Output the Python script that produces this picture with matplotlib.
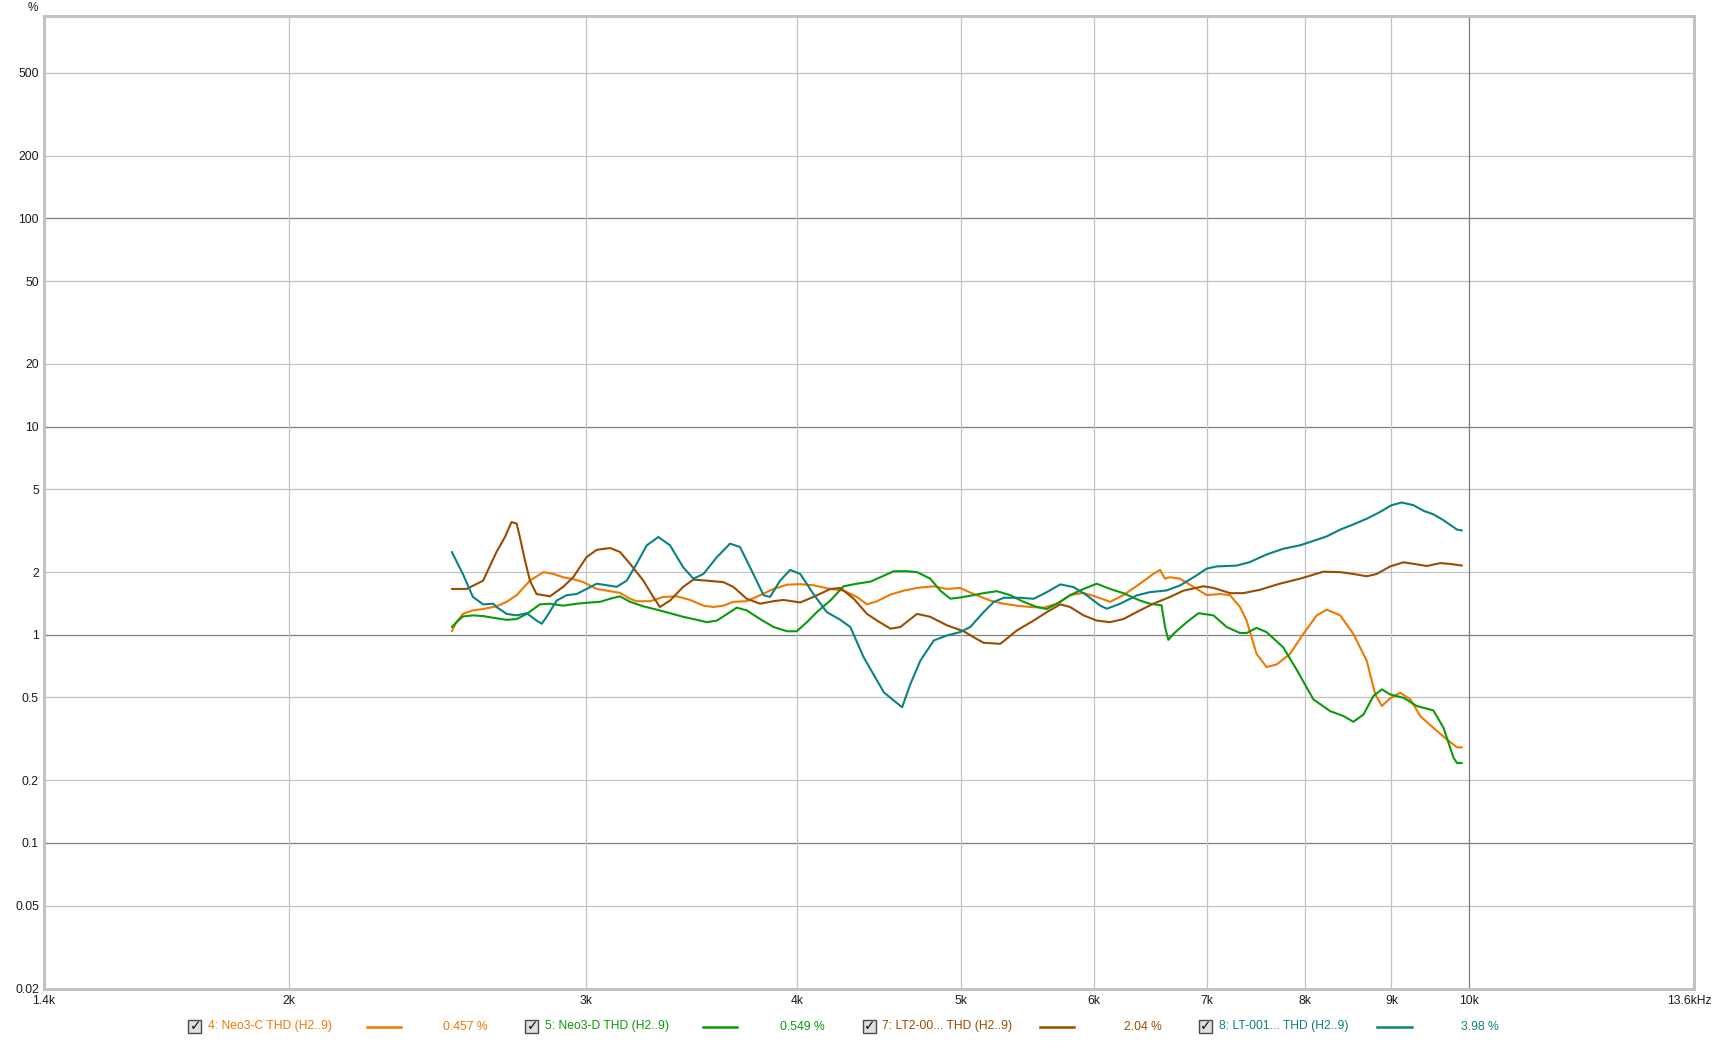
import matplotlib
matplotlib.use("Agg")
import matplotlib.pyplot as plt
from matplotlib.patches import Rectangle
from matplotlib.ticker import NullLocator
from matplotlib.transforms import ScaledTranslation

plt.rcParams['font.family'] = ['Liberation Sans', 'DejaVu Sans']

# ---------------- data (frequency in Hz, THD in %) ----------------
neo3c_f = [2497, 2513, 2535, 2570, 2606, 2654, 2691, 2728, 2778, 2829, 2868, 2907, 2947, 2988,
           3043, 3099, 3141, 3185, 3213, 3273, 3332, 3394, 3457, 3520, 3568, 3617, 3666, 3734,
           3803, 3873, 3945, 4017, 4090, 4185, 4262, 4340, 4400, 4461, 4543, 4627, 4711, 4820,
           4908, 4995, 5089, 5206, 5302, 5399, 5498, 5599, 5701, 5805, 5912, 6020, 6131, 6243,
           6386, 6503, 6563, 6608, 6653, 6745, 6869, 6995, 7122, 7221, 7320, 7386, 7487, 7590,
           7695, 7837, 7980, 8128, 8240, 8392, 8544, 8702, 8802, 8883, 8984, 9107, 9234, 9361,
           9531, 9708, 9843, 9909]
neo3c_v = [1.04, 1.15, 1.26, 1.31, 1.33, 1.37, 1.44, 1.55, 1.82, 2.00, 1.96, 1.89, 1.85, 1.79,
           1.66, 1.62, 1.59, 1.49, 1.45, 1.45, 1.52, 1.53, 1.47, 1.38, 1.36, 1.38, 1.44, 1.45,
           1.55, 1.66, 1.74, 1.75, 1.73, 1.66, 1.63, 1.52, 1.40, 1.45, 1.56, 1.63, 1.68, 1.71,
           1.66, 1.68, 1.57, 1.46, 1.41, 1.38, 1.36, 1.35, 1.41, 1.55, 1.59, 1.52, 1.44, 1.55,
           1.76, 1.96, 2.05, 1.86, 1.89, 1.86, 1.70, 1.55, 1.57, 1.55, 1.36, 1.17, 0.81, 0.70,
           0.72, 0.81, 1.01, 1.24, 1.32, 1.24, 1.01, 0.75, 0.52, 0.455, 0.495, 0.527, 0.49, 0.407,
           0.357, 0.314, 0.288, 0.288]

neo3d_f = [2497, 2513, 2535, 2570, 2606, 2654, 2691, 2728, 2766, 2816, 2855, 2907, 2961, 3001,
           3057, 3099, 3141, 3185, 3243, 3303, 3363, 3424, 3488, 3536, 3585, 3650, 3684, 3734,
           3803, 3873, 3945, 3998, 4054, 4109, 4185, 4262, 4340, 4421, 4461, 4564, 4647, 4711,
           4797, 4863, 4930, 4995, 5089, 5159, 5254, 5350, 5448, 5548, 5624, 5728, 5805, 5912,
           6020, 6131, 6243, 6386, 6474, 6577, 6608, 6638, 6684, 6807, 6917, 7059, 7188, 7320,
           7386, 7487, 7590, 7765, 7908, 8090, 8277, 8430, 8544, 8663, 8781, 8883, 8984, 9150,
           9316, 9531, 9663, 9797, 9843, 9909]
neo3d_v = [1.09, 1.15, 1.225, 1.24, 1.23, 1.20, 1.18, 1.19, 1.26, 1.40, 1.41, 1.38, 1.41, 1.425,
           1.44, 1.49, 1.53, 1.44, 1.37, 1.32, 1.27, 1.22, 1.18, 1.15, 1.17, 1.285, 1.35, 1.31,
           1.19, 1.09, 1.04, 1.04, 1.15, 1.285, 1.46, 1.71, 1.76, 1.80, 1.86, 2.02, 2.02, 2.00,
           1.86, 1.63, 1.49, 1.51, 1.55, 1.585, 1.62, 1.55, 1.44, 1.36, 1.33, 1.44, 1.55, 1.66,
           1.76, 1.66, 1.585, 1.46, 1.41, 1.385, 1.09, 0.946, 1.01, 1.15, 1.27, 1.24, 1.09, 1.02,
           1.02, 1.08, 1.03, 0.87, 0.68, 0.49, 0.43, 0.407, 0.382, 0.414, 0.508, 0.547, 0.517, 0.498,
           0.455, 0.433, 0.357, 0.256, 0.242, 0.242]

lt200_f = [2497, 2548, 2606, 2654, 2685, 2709, 2728, 2740, 2759, 2778, 2803, 2855, 2907, 2947,
           3001, 3043, 3099, 3141, 3185, 3243, 3287, 3317, 3363, 3424, 3472, 3536, 3617, 3666,
           3734, 3803, 3873, 3926, 4017, 4090, 4185, 4243, 4321, 4400, 4461, 4543, 4605, 4711,
           4797, 4908, 5020, 5089, 5159, 5278, 5302, 5399, 5523, 5624, 5728, 5805, 5912, 6020,
           6131, 6243, 6386, 6503, 6653, 6776, 6963, 7059, 7221, 7353, 7521, 7729, 7944, 8203,
           8392, 8544, 8702, 8821, 8984, 9150, 9316, 9446, 9621, 9752, 9909]
lt200_v = [1.66, 1.66, 1.82, 2.50, 2.95, 3.48, 3.42, 2.95, 2.28, 1.82, 1.57, 1.53, 1.70, 1.89,
           2.36, 2.56, 2.61, 2.50, 2.19, 1.82, 1.52, 1.36, 1.46, 1.70, 1.84, 1.82, 1.79, 1.70,
           1.49, 1.41, 1.45, 1.47, 1.43, 1.52, 1.66, 1.68, 1.49, 1.26, 1.17, 1.07, 1.09, 1.26,
           1.22, 1.11, 1.04, 0.974, 0.915, 0.905, 0.932, 1.05, 1.17, 1.285, 1.40, 1.36, 1.24, 1.17,
           1.15, 1.19, 1.31, 1.41, 1.52, 1.63, 1.71, 1.68, 1.585, 1.585, 1.645, 1.76, 1.86, 2.01,
           2.00, 1.96, 1.91, 1.96, 2.13, 2.23, 2.18, 2.14, 2.21, 2.19, 2.15]

lt001_f = [2497, 2535, 2570, 2606, 2642, 2654, 2691, 2728, 2766, 2803, 2823, 2842, 2881, 2921,
           2961, 3001, 3043, 3085, 3127, 3170, 3213, 3258, 3310, 3363, 3424, 3472, 3520, 3585,
           3650, 3700, 3751, 3821, 3855, 3908, 3962, 4017, 4090, 4165, 4243, 4301, 4380, 4502,
           4564, 4616, 4669, 4733, 4820, 4908, 4995, 5066, 5159, 5230, 5302, 5424, 5523, 5624,
           5728, 5833, 5939, 6047, 6103, 6215, 6358, 6474, 6622, 6745, 6900, 6995, 7090, 7286,
           7419, 7590, 7765, 7944, 8128, 8240, 8392, 8544, 8702, 8861, 9000, 9127, 9276, 9404,
           9531, 9663, 9843, 9909]
lt001_v = [2.50, 1.96, 1.52, 1.40, 1.41, 1.36, 1.26, 1.24, 1.27, 1.17, 1.13, 1.22, 1.46, 1.55,
           1.57, 1.66, 1.76, 1.73, 1.70, 1.82, 2.19, 2.69, 2.95, 2.69, 2.11, 1.86, 1.96, 2.36,
           2.74, 2.64, 2.11, 1.55, 1.52, 1.82, 2.05, 1.96, 1.57, 1.285, 1.18, 1.09, 0.78, 0.53,
           0.483, 0.449, 0.581, 0.753, 0.939, 0.993, 1.03, 1.09, 1.285, 1.436, 1.506, 1.506, 1.489, 1.603,
           1.746, 1.695, 1.546, 1.384, 1.334, 1.409, 1.546, 1.603, 1.633, 1.726, 1.93, 2.08, 2.13, 2.15,
           2.235, 2.43, 2.59, 2.69, 2.86, 2.97, 3.20, 3.39, 3.61, 3.89, 4.19, 4.32, 4.19, 3.94,
           3.79, 3.55, 3.20, 3.17]

series_names = ["4: Neo3-C THD (H2..9)", "5: Neo3-D THD (H2..9)",
                "7: LT2-00... THD (H2..9)", "8: LT-001... THD (H2..9)"]
series_values = ["0.457 %", "0.549 %", "2.04 %", "3.98 %"]
series_colors = ["#f07800", "#0a9a0a", "#9a4c00", "#0a8282"]

x_ticks = [1431, 2000, 3000, 4000, 5000, 6000, 7000, 8000, 9000, 10000, 13600]
x_labels = ["1.4k", "2k", "3k", "4k", "5k", "6k", "7k", "8k", "9k", "10k", "13.6kHz"]
y_ticks = [500, 200, 100, 50, 20, 10, 5, 2, 1, 0.5, 0.2, 0.1, 0.05, 0.02]
y_labels = ["500", "200", "100", "50", "20", "10", "5", "2", "1", "0.5", "0.2", "0.1", "0.05", "0.02"]
decade_y = [100, 10, 1, 0.1]
decade_x = [10000]

# ---------------- figure ----------------
W, H = 1716, 1042
fig = plt.figure(figsize=(W / 100, H / 100), dpi=100)
fig.patch.set_facecolor("white")
L, R, T, B = 43.8, 1694, 16.4, 988.5
ax = fig.add_axes([L / W, 1 - B / H, (R - L) / W, (B - T) / H])
ax.set_xscale("log")
ax.set_yscale("log")
ax.set_xlim(1431, 13600)
ax.set_ylim(0.02, 934)

for v in y_ticks[:-1]:
    dec = v in decade_y
    ax.axhline(v, color="#7f7f7f" if dec else "#c3c3c3", lw=0.9, zorder=1)
for f in x_ticks[1:-1]:
    dec = f in decade_x
    ax.axvline(f, color="#7f7f7f" if dec else "#c3c3c3", lw=0.9, zorder=1)

data = [(neo3c_f, neo3c_v), (neo3d_f, neo3d_v), (lt200_f, lt200_v), (lt001_f, lt001_v)]
for (fx_, vy_), c in zip(data, series_colors):
    ax.plot(fx_, vy_, color=c, lw=1.5, zorder=3, solid_joinstyle="round", solid_capstyle="round")

ax.set_xticks(x_ticks)
ax.set_xticklabels(x_labels)
ax.set_yticks(y_ticks)
ax.set_yticklabels(y_labels)
ax.xaxis.set_minor_locator(NullLocator())
ax.yaxis.set_minor_locator(NullLocator())
ax.tick_params(axis="both", length=0, labelsize=8.7, colors="#1a1a1a")
ax.tick_params(axis="x", pad=5)
ax.tick_params(axis="y", pad=3.5)
last = ax.get_xticklabels()[-1]
last.set_transform(last.get_transform() + ScaledTranslation(-5 / 100, 0, fig.dpi_scale_trans))

for s in ax.spines.values():
    s.set_color("#c2c2c2")
    s.set_linewidth(2.2)

fig.text(33 / W, 1 - 8 / H, "%", fontsize=8.5, ha="center", va="center", color="#1a1a1a")

# ---------------- legend row ----------------
def fx(x):
    return x / W

def fy(y):
    return 1 - y / H

ly = 1026.5
box_x = [194.8, 531.9, 869.0, 1205.5]
text_x = [208, 545, 882, 1219]
line_x = [(366.6, 400.6), (702.6, 736.5), (1039.7, 1073.6), (1376.8, 1411.8)]
val_x = [465.1, 802.2, 1142.6, 1479.6]
for i in range(4):
    c = series_colors[i]
    fig.patches.append(Rectangle((fx(box_x[i] - 6.5), fy(ly + 6.5)), 13 / W, 13 / H,
                                 transform=fig.transFigure, facecolor="#dedede",
                                 edgecolor="#4a4a4a", lw=1.0))
    fig.text(fx(box_x[i] + 0.5), fy(ly), "\u2713", family="DejaVu Sans", fontsize=10,
             fontweight="bold", ha="center", va="center", color="#111111")
    fig.text(fx(text_x[i]), fy(ly), series_names[i], fontsize=8.7, color=c,
             ha="left", va="center")
    fig.add_artist(plt.Line2D([fx(line_x[i][0]), fx(line_x[i][1])], [fy(ly), fy(ly)],
                              transform=fig.transFigure, color=c, lw=1.8))
    fig.text(fx(val_x[i]), fy(ly), series_values[i], fontsize=8.7, color=c,
             ha="center", va="center")

fig.savefig("out.png", dpi=100)
